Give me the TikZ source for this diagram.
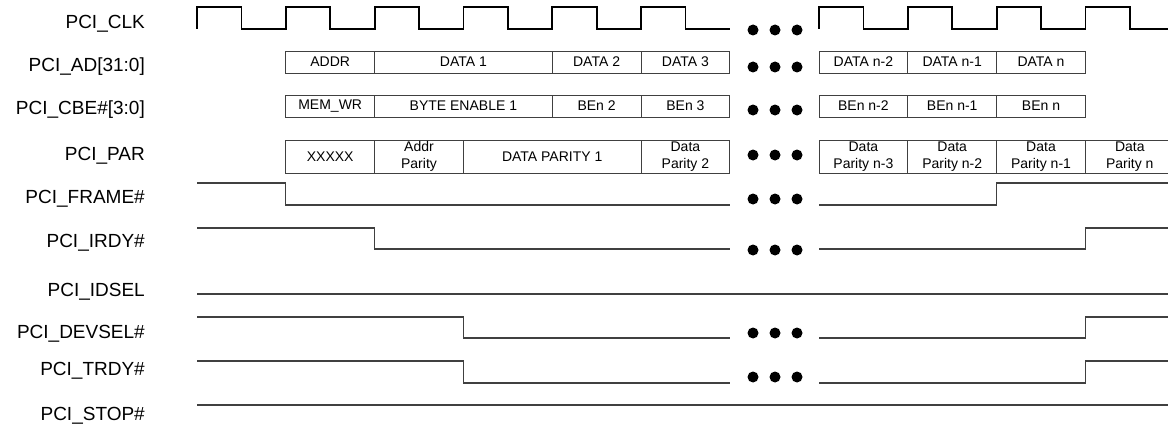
\documentclass[tikz,border=0pt]{standalone}
\usepackage{fontspec}
\setmainfont{Liberation Sans}
\begin{document}
\begin{tikzpicture}[x=1pt, y=-1pt]
        \tikzstyle{lbl}=[anchor=base east, inner sep=0pt, font=\fontsize{19}{19}\selectfont]
        \tikzstyle{field}=[rectangle, draw=black!75, line width=0.9pt, inner sep=0pt, align=center, font=\fontsize{14}{16.5}\selectfont]
        \tikzstyle{wave}=[draw=black!75, line width=1.1pt]
        \tikzstyle{clk}=[draw=black, line width=1.8pt]
        \tikzstyle{gap}=[circle, fill=black, inner sep=0pt, minimum size=11pt]
        \useasboundingbox (0,0) rectangle (1168,428);

        \foreach \y/\n/\t in {28.5/clk/PCI\_CLK, 71/ad/PCI\_AD[31:0], 114/cbe/PCI\_CBE\#[3:0],
          160/par/PCI\_PAR, 203/frame/PCI\_FRAME\#, 247/irdy/PCI\_IRDY\#, 296/idsel/PCI\_IDSEL,
          338/devsel/PCI\_DEVSEL\#, 375/trdy/PCI\_TRDY\#, 420/stop/PCI\_STOP\#}
        {
          \path (145,\y) node[lbl] (\n) {\t};
        }

        \draw[clk] (197,29) foreach \k in {1,...,6} { -- ++(0,-22) -- ++(44.4,0) -- ++(0,22) -- ++(44.4,0) };
        \draw[clk] (819,29) foreach \k in {1,...,3} { -- ++(0,-22) -- ++(44.4,0) -- ++(0,22) -- ++(44.4,0) }
          -- ++(0,-22) -- ++(44.4,0) -- ++(0,22) -- (1168,29);

        \foreach \x/\w/\t [count=\i] in {285.8/88.8/ADDR, 374.6/177.6/DATA 1, 552.2/88.8/DATA 2,
          641/88.8/DATA 3, 819/88.8/DATA n-2, 907.8/88.8/DATA n-1, 996.6/88.8/DATA n}
        {
          \path (\x+\w/2, 62) node[field, minimum width=\w pt, minimum height=22pt] (ad\i) {\t};
        }

        \foreach \x/\w/\t [count=\i] in {285.8/88.8/MEM\_WR, 374.6/177.6/BYTE ENABLE 1, 552.2/88.8/BEn 2,
          641/88.8/BEn 3, 819/88.8/BEn n-2, 907.8/88.8/BEn n-1, 996.6/88.8/BEn n}
        {
          \path (\x+\w/2, 106) node[field, minimum width=\w pt, minimum height=22pt] (cbe\i) {\t};
        }

        \foreach \x/\w/\t [count=\i] in {285.8/88.8/XXXXX, 374.6/88.8/{Addr\\Parity}, 463.4/177.6/DATA PARITY 1,
          641/88.8/{Data\\Parity 2}, 819/88.8/{Data\\Parity n-3}, 907.8/88.8/{Data\\Parity n-2},
          996.6/88.8/{Data\\Parity n-1}, 1085.4/88.8/{Data\\Parity n}}
        {
          \path (\x+\w/2, 156.5) node[field, minimum width=\w pt, minimum height=33pt] (par\i) {\t};
        }

        \draw[wave]
          (197,183) -- (285.8,183) -- (285.8,205) -- (729.8,205)
          (819,205) -- (996.6,205) -- (996.6,183) -- (1168,183);
        \draw[wave]
          (197,228) -- (374.6,228) -- (374.6,249) -- (729.8,249)
          (819,249) -- (1085.4,249) -- (1085.4,228) -- (1168,228);
        \draw[wave] (197,294) -- (1168,294);
        \draw[wave]
          (197,317) -- (463.4,317) -- (463.4,338) -- (729.8,338)
          (819,338) -- (1085.4,338) -- (1085.4,317) -- (1168,317);
        \draw[wave]
          (197,361) -- (463.4,361) -- (463.4,383) -- (729.8,383)
          (819,383) -- (1085.4,383) -- (1085.4,361) -- (1168,361);
        \draw[wave] (197,405) -- (1168,405);

        \foreach \y [count=\i] in {30, 67, 110, 155, 199, 250, 333, 377}
        {
          \foreach \x [count=\j] in {753, 775, 797}
          {
            \path (\x,\y) node[gap] (dot\i\j) {};
          }
        }
      \end{tikzpicture}
\end{document}
